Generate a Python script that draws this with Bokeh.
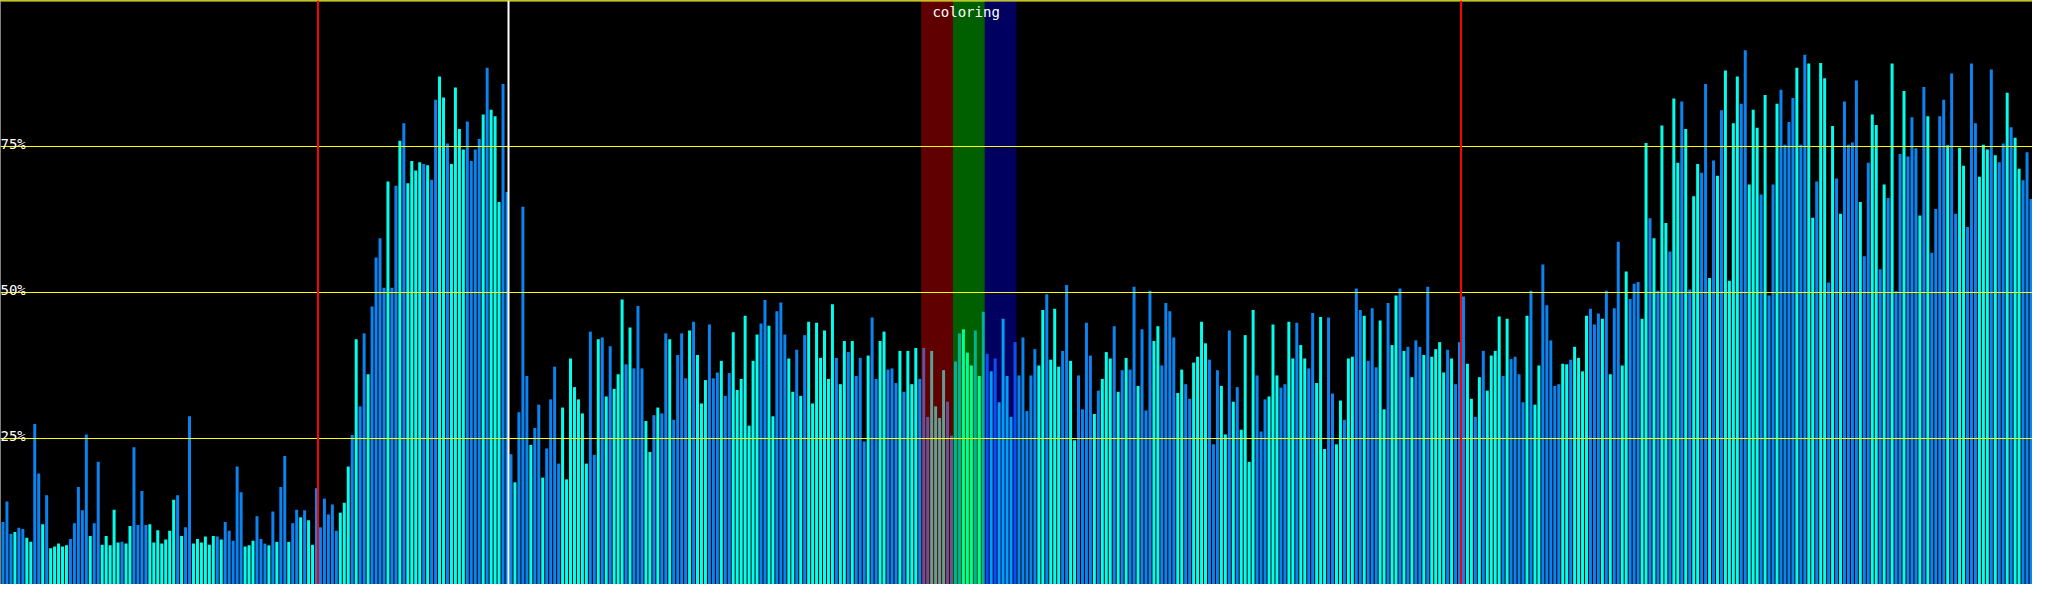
from bokeh.plotting import figure
from bokeh.models import ColumnDataSource, Range1d, Span, BoxAnnotation, Label
from bokeh.embed import file_html
from bokeh.resources import INLINE

# ---- data (percent per sample, 512 samples) ----
values_a = [10.7, 14.2, 8.7, 9.0, 9.7, 9.5, 8.0, 7.3, 27.5, 19.0, 10.3, 15.3, 6.2, 6.5, 7.0, 6.5,
            6.7, 7.8, 10.5, 16.7, 12.7, 25.7, 8.3, 10.5, 21.0, 6.8, 8.3, 6.7, 12.8, 7.2, 7.3, 7.0,
            10.0, 23.5, 10.2, 16.0, 10.2, 10.3, 7.2, 9.3, 7.0, 7.7, 9.2, 14.5, 15.3, 8.3, 9.8, 28.8,
            7.0, 7.8, 7.2, 8.2, 6.8, 8.3, 8.2, 7.7, 10.7, 9.2, 7.5, 20.2, 15.8, 6.5, 6.7, 7.5,
            11.7, 7.8, 7.0, 6.7, 12.5, 7.3, 16.7, 22.0, 7.3, 10.5, 12.8, 11.5, 12.7, 11.0, 6.8, 16.5,
            9.8, 14.7, 12.0, 13.7, 9.2, 12.3]
values_b = [14.0, 20.2, 25.6, 42.0, 30.5, 43.0, 36.0, 47.6, 56.0, 59.3, 50.8, 69.0, 50.8, 68.3,
            76.0, 79.0, 68.7, 72.5, 70.9, 72.3, 72.0, 71.8, 69.3, 83.0, 87.0, 83.4, 75.5, 72.0,
            85.1, 78.0, 74.5, 79.3, 72.5, 74.5, 76.3, 80.5, 88.5, 81.3, 80.2, 65.5, 85.7, 67.2,
            22.3, 17.5, 29.5, 64.7, 35.7, 23.9, 26.8, 30.8]
values_c = [18.3, 23.3, 31.7, 37.3, 20.7, 30.3, 18.0, 38.7, 33.8, 31.7, 29.3, 20.7, 43.3, 22.2,
            42.0, 42.3, 32.2, 40.8, 33.5, 36.0, 48.8, 37.7, 44.0, 37.0, 47.7, 37.0, 28.0, 22.7,
            29.0, 30.3, 29.3, 43.0, 42.0, 28.2, 39.3, 43.0, 35.3, 43.5, 45.0, 39.3, 31.0, 35.0,
            44.5, 35.3, 36.3, 38.3, 32.3, 36.2, 43.2, 33.3, 35.2, 46.0, 27.2, 38.3, 42.8, 44.7,
            48.7, 44.3, 28.8, 46.8]
values_d = [48.3, 42.8, 38.7, 33.0, 40.2, 32.3, 42.7, 45.0, 31.0, 44.8, 38.8, 43.5, 35.2, 48.0,
            38.8, 34.3, 41.7, 39.8, 41.7, 35.7, 38.8, 24.5, 39.2, 45.7, 35.2, 41.7, 43.3, 36.8,
            37.0, 34.5, 40.0, 33.0, 40.0, 34.3, 40.5, 35.2, 40.5, 28.7, 40.0, 30.5, 28.5, 36.7,
            31.3, 25.5, 38.2, 43.0, 43.7, 39.7, 37.5, 43.5, 35.7, 46.7, 39.5, 36.5, 38.7, 31.2,
            45.5, 35.7, 28.7, 41.5]
values_e = [35.8, 42.3, 29.7, 35.8, 40.3, 37.5, 47.0, 49.7, 38.5, 47.2, 37.3, 40.0, 51.3, 38.3,
            24.7, 35.8, 30.0, 44.8, 39.2, 29.2, 33.2, 35.2, 39.8, 38.7, 44.2, 33.0, 36.7, 38.8,
            36.8, 51.0, 34.0, 43.7, 29.8, 50.3, 41.7, 44.2, 37.5, 48.2, 46.8, 42.3, 32.8, 36.8,
            34.3, 31.8, 38.0, 39.0, 45.0, 41.3, 38.5, 24.0, 36.7, 34.0, 25.7, 43.5, 31.3, 33.8,
            26.5, 42.7, 21.0, 47.0]
values_f = [35.8, 26.2, 31.7, 32.2, 44.5, 35.8, 33.7, 34.3, 45.0, 38.7, 44.8, 41.0, 38.7, 37.0,
            46.5, 34.5, 45.8, 23.2, 45.7, 32.7, 24.0, 31.5, 28.2, 38.7, 39.0, 50.7, 47.0, 46.0,
            38.3, 47.3, 37.2, 45.2, 30.0, 48.2, 41.0, 49.5, 50.7, 40.0, 40.7, 35.5, 41.8, 40.7,
            39.3, 51.0, 39.0, 40.3, 41.5, 36.3, 40.2, 38.7, 34.3, 41.5, 49.3, 37.8, 31.8, 28.7,
            35.5, 40.0, 33.2, 39.2]
values_g = [40.0, 45.9, 35.7, 45.5, 38.6, 39.0, 36.0, 31.2, 46.0, 50.3, 30.8, 37.5, 54.8, 47.8,
            41.8, 34.0, 34.3, 37.8, 37.7, 38.5, 40.7, 38.8, 36.5, 46.0, 47.2, 44.5, 46.4, 45.5,
            50.3, 36.0, 47.3, 58.7, 37.5, 53.6, 48.9, 51.5, 51.8, 45.5, 75.6, 62.7, 59.3, 50.3,
            78.6, 61.9, 57.0, 83.2, 72.2, 82.7, 78.0, 50.5, 66.5, 72.0, 70.5, 85.7, 52.5, 72.6,
            70.0, 81.2, 88.0, 52.0]
values_h = [79.0, 87.0, 82.3, 91.5, 68.5, 81.3, 78.2, 66.8, 83.8, 49.5, 68.5, 82.3, 84.7, 75.3,
            79.2, 83.3, 88.5, 75.3, 90.7, 89.2, 62.8, 69.0, 89.3, 86.7, 51.7, 78.5, 69.5, 63.5,
            82.7, 75.3, 75.7, 86.3, 65.5, 56.2, 72.2, 80.5, 78.7, 54.0, 68.5, 66.2, 89.2, 50.2,
            73.7, 84.5, 73.3, 80.0, 74.7, 63.2, 85.2, 80.2, 56.8, 64.3, 80.2, 83.0, 75.2, 87.5,
            63.5, 74.8, 71.7, 61.2, 89.2, 79.0, 69.8, 75.3, 74.5, 88.2, 73.5, 72.3, 75.5, 84.2,
            78.3, 76.5, 71.2, 69.2, 74.0, 66.0]

# bar kind per sample (groups of 10): c = cyan, b = blue
kinds_a = ["bbbcbbccbb", "cbcccccbbb", "bbcbbccccc", "bccbbbbccc", "ccccbcbbcc",
           "ccccbcbbbb", "bcccbbbcbc", "bbcbbcbccb", "bbbbbc"]
kinds_b = ["ccbcbbcbbb", "bcbbcbcccc", "bcbbccbccc", "cbbbbcbccc", "bbbcbbbcbb"]
kinds_c = ["cbbbbccccc", "ccbbcbcbcc", "cbcbbbccbc", "bbcbbbbcbc", "ccbbbcbbcc", "cccccbbccb"]
kinds_d = ["bbccbcbccc", "ccccbccbcb", "bbcbbccbbb", "cbcccbbbcc", "ccbbbbcccb", "cbbcbccccb"]
kinds_e = ["bbbbbccbcc", "cbbccbbbbc", "bcccbcbcbb", "cbbbccbbbb", "ccbbccccbb", "bccbcbcccc"]
kinds_f = ["bbbcccbbcc", "bccbbcccbb", "ccbccbbcbb", "bccbccbcbc", "bbcbccccbc", "bbbccbcbcc"]
kinds_g = ["ccbcbbbbcb", "ccbbbbbccb", "ccccbbbcbc", "bbccbbbccb", "cbccbccbcb", "ccbbcbcbcc"]
kinds_h = ["ccbbcccbcb", "bcbbbbcbbc", "cbccbcbcbb", "bbcbbccbcb", "cbbcbbbcbc",
           "bbbbcbbccb", "bbcccbcbbc", "bccbbb"]

values = values_a + values_b + values_c + values_d + values_e + values_f + values_g + values_h
kinds = "".join(kinds_a + kinds_b + kinds_c + kinds_d + kinds_e + kinds_f + kinds_g + kinds_h)
kinds = kinds[:len(values)].ljust(len(values), "b")

grid_levels = [25, 50, 75]
grid_labels = ["25%", "50%", "75%"]
red_markers = [80, 368]
white_markers = [128]
bands = [(232, 240, "#FF0000"), (240, 248, "#00FF00"), (248, 256, "#0000FF")]
band_title = "coloring"

CYAN = "#00FFEE"
BLUE = "#0A84F0"

n = len(values)
src = ColumnDataSource(dict(
    x=[i + 0.625 for i in range(n)],
    top=values,
    color=[CYAN if k == "c" else BLUE for k in kinds],
))

p = figure(width=2032, height=584, output_backend="svg", toolbar_location=None,
           x_range=Range1d(0, n), y_range=Range1d(0, 100),
           background_fill_color="black", border_fill_color="black",
           min_border=0, outline_line_color=None)
p.axis.visible = False
p.xgrid.visible = False
p.ygrid.visible = False

p.vbar(x="x", top="top", bottom=0, width=0.75, fill_color="color", line_color=None, source=src)

for l, r, c in bands:
    p.add_layout(BoxAnnotation(left=l, right=r, fill_color=c, fill_alpha=0.375, line_color=None))

for lv in grid_levels:
    p.add_layout(Span(location=lv, dimension="width", line_color="#FFFF00", line_width=1))
p.add_layout(Span(location=100, dimension="width", line_color="#FFFF00", line_width=2))

for xm in red_markers:
    p.add_layout(Span(location=xm, dimension="height", line_color="#FF0000", line_width=2))
for xm in white_markers:
    p.add_layout(Span(location=xm, dimension="height", line_color="#FFFFFF", line_width=2))

for lv, txt in zip(grid_levels, grid_labels):
    p.add_layout(Label(x=0, x_units="screen", y=lv, y_offset=3, text=txt,
                       text_color="white", text_font="DejaVu Sans Mono",
                       text_font_size="14px", text_baseline="alphabetic", text_align="left"))

p.add_layout(Label(x=(bands[0][0] + bands[-1][1]) / 2 - 0.7, y=100, y_offset=-11.5, text=band_title,
                   text_color="white", text_font="DejaVu Sans Mono", text_font_size="14px",
                   text_baseline="alphabetic", text_align="center"))

open("out.html", "w").write(file_html(p, INLINE))
